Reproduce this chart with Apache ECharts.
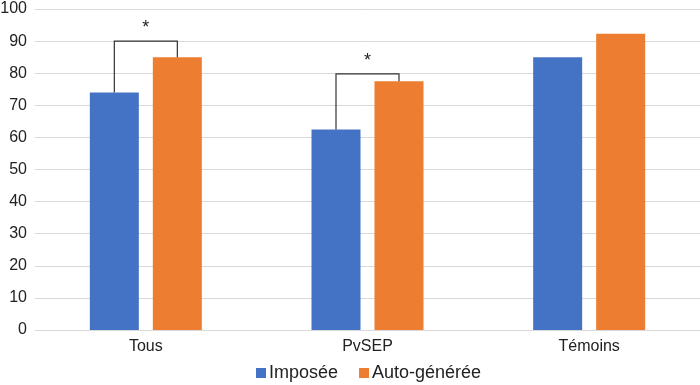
<!DOCTYPE html>
<html>
<head>
<meta charset="utf-8">
<script src="https://cdn.jsdelivr.net/npm/echarts@6/dist/echarts.min.js"></script>
<style>html,body{margin:0;padding:0;background:#fff}#c{width:700px;height:385px}</style>
</head>
<body>
<div id="c"></div>
<script>
var categories = ['Tous', 'PvSEP', 'Témoins'];
var imposee = [74, 62.5, 85];
var autoGeneree = [85, 77.5, 92.3];
var yTicks = [0, 10, 20, 30, 40, 50, 60, 70, 80, 90, 100];
// significance brackets: [category index, blue top, orange top, bracket level]
var brackets = [[0, 74, 85, 90], [1, 62.5, 77.5, 79.8]];

var BAR_W = 49, GAP = 14;
var chart = echarts.init(document.getElementById('c'));
var font = 'Liberation Sans, Arial, sans-serif';
chart.setOption({
  animation: false,
  grid: {left: 35, right: 0, top: 9, bottom: 55, containLabel: false, outerBoundsMode: 'none'},
  legend: {
    top: 359, left: 251, itemWidth: 10, itemHeight: 10, itemGap: 21,
    icon: 'rect',
    textStyle: {fontSize: 18, color: '#222', fontFamily: font, padding: [0, 0, 0, -2]},
    data: ['Imposée', 'Auto-générée']
  },
  xAxis: {
    type: 'category', data: categories,
    axisTick: {show: false},
    axisLine: {lineStyle: {color: '#d9d9d9'}},
    axisLabel: {fontSize: 16, color: '#222', fontFamily: font, margin: 9}
  },
  yAxis: {
    type: 'value', min: yTicks[0], max: yTicks[yTicks.length - 1], interval: 10,
    splitLine: {lineStyle: {color: '#d9d9d9'}},
    axisLine: {show: false}, axisTick: {show: false},
    axisLabel: {fontSize: 16, color: '#222', fontFamily: font, margin: 8}
  },
  series: [
    {name: 'Imposée', type: 'bar', data: imposee, barWidth: BAR_W, barGap: (GAP / BAR_W * 100) + '%',
     itemStyle: {color: '#4472C4'}},
    {name: 'Auto-générée', type: 'bar', data: autoGeneree, barWidth: BAR_W,
     itemStyle: {color: '#ED7D31'}},
    {type: 'custom', data: brackets, z: 5, silent: true,
     renderItem: function (params, api) {
       var idx = api.value(0);
       var cx = api.coord([idx, 0])[0];
       var off = (BAR_W + GAP) / 2;
       var xl = cx - off, xr = cx + off;
       var yb = api.coord([idx, api.value(1)])[1];
       var yo = api.coord([idx, api.value(2)])[1];
       var yk = api.coord([idx, api.value(3)])[1];
       return {type: 'group', children: [
         {type: 'polyline', shape: {points: [[xl, yb], [xl, yk], [xr, yk], [xr, yo]]},
          style: {stroke: '#333', lineWidth: 1.2, fill: null}},
         {type: 'text', style: {x: cx, y: yk - 4, text: '*', textAlign: 'center', textVerticalAlign: 'bottom',
          fontSize: 18, fill: '#222', fontFamily: font}}
       ]};
     }}
  ]
});
</script>
</body>
</html>
